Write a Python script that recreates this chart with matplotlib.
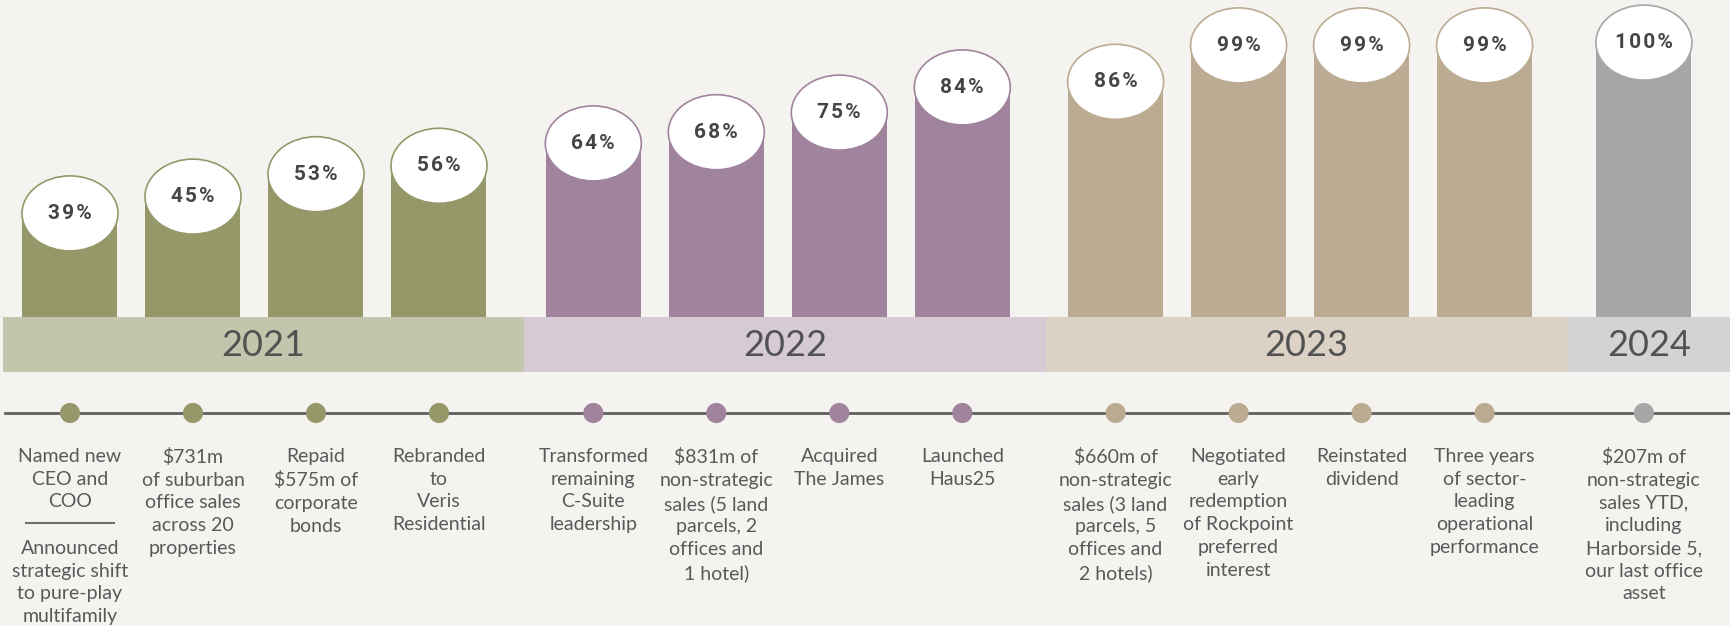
import matplotlib.pyplot as plt
from matplotlib.patches import Ellipse, Rectangle

# data
years = ['2021', '2022', '2023', '2024']
group_sizes = [4, 4, 4, 1]
occupancy = [39, 45, 53, 56, 64, 68, 75, 84, 86, 99, 99, 99, 100]
milestones = [
    "Named new\nCEO and\nCOO",
    "$731m\nof suburban\noffice sales\nacross 20\nproperties",
    "Repaid\n$575m of\ncorporate\nbonds",
    "Rebranded\nto\nVeris\nResidential",
    "Transformed\nremaining\nC-Suite\nleadership",
    "$831m of\nnon-strategic\nsales (5 land\nparcels, 2\noffices and\n1 hotel)",
    "Acquired\nThe James",
    "Launched\nHaus25",
    "$660m of\nnon-strategic\nsales (3 land\nparcels, 5\noffices and\n2 hotels)",
    "Negotiated\nearly\nredemption\nof Rockpoint\npreferred\ninterest",
    "Reinstated\ndividend",
    "Three years\nof sector-\nleading\noperational\nperformance",
    "$207m of\nnon-strategic\nsales YTD,\nincluding\nHarborside 5,\nour last office\nasset",
]
milestone_extra = {0: "Announced\nstrategic shift\nto pure-play\nmultifamily"}

bar_colors = ['#959868', '#a0839d', '#bcab93', '#a6a6a6']
band_colors = ['#c3c6ad', '#d6cad5', '#dbd1c4', '#d3d3d3']
bg = '#f4f3ef'
text_col = '#595959'

# layout (pixels)
W, H = 1731, 626
base = 317          # bottom of bars / top of year band
band_h = 55
px_per_pct = 2.8
pct0 = 2            # value sitting on the band
band_w = 521.3
band_x0 = 3
step = 123
pads = [67, 69, 70, 77]
bar_w = 95
line_y = 413

fig = plt.figure(figsize=(W / 100, H / 100), dpi=100)
fig.patch.set_facecolor(bg)

ax_top = fig.add_axes([0, (H - base) / H, 1, base / H])
ax_bot = fig.add_axes([0, 0, 1, (H - base) / H])
for ax in (ax_top, ax_bot):
    ax.set_xlim(0, W)
    ax.axis('off')
    ax.set_facecolor(bg)
ax_top.set_ylim(pct0, pct0 + base / px_per_pct)
ax_bot.set_ylim(H, base)

xs, cols = [], []
for g, n in enumerate(group_sizes):
    left = band_x0 + g * band_w
    for j in range(n):
        xs.append(left + pads[g] + step * j)
        cols.append(bar_colors[g])

# bars + caps
ax_top.bar(xs, occupancy, width=bar_w, color=cols, zorder=1)
ell_h = 75 / px_per_pct
for x, v, c in zip(xs, occupancy, cols):
    ax_top.add_patch(Ellipse((x, v), bar_w + 1, ell_h, facecolor='white',
                             edgecolor=c, lw=1.2, zorder=2))
    ax_top.text(x, v, "\u200a".join(f"{v}%"), ha='center', va='center',
                fontsize=15, fontweight='bold', family=['Roboto', 'DejaVu Sans'],
                color='#454545', zorder=3)

# year bands
for g, yr in enumerate(years):
    left = band_x0 + g * band_w
    right = W if g == len(years) - 1 else left + band_w
    ax_bot.add_patch(Rectangle((left, base), right - left, band_h,
                               facecolor=band_colors[g], edgecolor='none'))
    ax_bot.text((left + right) / 2, base + band_h / 2 + 1, yr, ha='center',
                va='center', fontsize=26, family='Lato', color='#525252')

# timeline
ax_bot.plot([5, W], [line_y, line_y], color='#5f5f5f', lw=2, zorder=1)
ax_bot.scatter(xs, [line_y] * len(xs), s=210, c=cols, zorder=2, edgecolors='none')

for i, (x, s) in enumerate(zip(xs, milestones)):
    ax_bot.text(x, 448, s, ha='center', va='top', fontsize=14, family='Lato',
                color=text_col, linespacing=1.41)
    if i in milestone_extra:
        ax_bot.plot([x - 44, x + 44], [523, 523], color='#707070', lw=1.5)
        ax_bot.text(x, 540, milestone_extra[i], ha='center', va='top',
                    fontsize=14, family='Lato', color=text_col, linespacing=1.41)

fig.savefig('out.png', dpi=100, facecolor=bg)
